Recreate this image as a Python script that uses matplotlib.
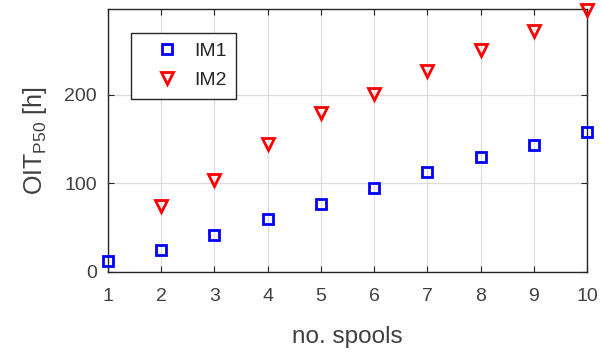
import matplotlib
matplotlib.use("Agg")
import matplotlib.pyplot as plt

plt.rcParams['font.family'] = ['Liberation Sans', 'DejaVu Sans']

spools = [1, 2, 3, 4, 5, 6, 7, 8, 9, 10]
im1 = [12.5, 24, 42, 60, 77, 95, 113, 130, 143, 158]
im2_x = [2, 3, 4, 5, 6, 7, 8, 9, 10]
im2 = [74, 104, 145, 179, 201, 227, 251, 272, 296]
x_ticks = [1, 2, 3, 4, 5, 6, 7, 8, 9, 10]
y_ticks = [0, 100, 200]

text_color = '#404040'
axis_color = '#262626'

fig = plt.figure(figsize=(6.01, 3.53), dpi=100)
ax = fig.add_axes([0.1797, 0.2303, 0.797, 0.7437])

ax.plot(spools, im1, linestyle='none', marker='s', markersize=7.2,
        markerfacecolor='none', markeredgecolor=(0, 0, 1), markeredgewidth=2.0,
        label='IM1', clip_on=False, zorder=3)
ax.plot(im2_x, im2, linestyle='none', marker='v', markersize=8.8,
        markerfacecolor='none', markeredgecolor=(1, 0, 0), markeredgewidth=2.0,
        label='IM2', clip_on=False, zorder=3)

ax.set_xlim(1, 10)
ax.set_ylim(0, 297)
ax.set_xticks(x_ticks)
ax.set_yticks(y_ticks)
ax.grid(True, color='#dcdcdc', linewidth=0.9)
ax.set_axisbelow(True)
ax.tick_params(direction='in', top=True, right=True, length=4, width=0.8,
               labelsize=14, labelcolor=text_color, color=axis_color)
ax.tick_params(axis='x', pad=12)
ax.tick_params(axis='y', pad=8)
for s in ax.spines.values():
    s.set_color(axis_color)
    s.set_linewidth(1.0)

ax.set_xlabel('no. spools', fontsize=17.5, color=text_color, labelpad=15)
ax.set_ylabel(r'OIT$_{\mathregular{P50}}$ [h]', fontsize=18, color=text_color,
              labelpad=11)

leg = ax.legend(loc='upper left', bbox_to_anchor=(0.048, 0.911),
                borderaxespad=0, fontsize=14,
                frameon=True, fancybox=False, edgecolor=axis_color,
                framealpha=1, borderpad=0.5, handletextpad=0.05,
                handlelength=2.7, labelspacing=0.6)
leg.get_frame().set_linewidth(1.0)
for t in leg.get_texts():
    t.set_color(axis_color)

fig.savefig('out.png', dpi=100)
